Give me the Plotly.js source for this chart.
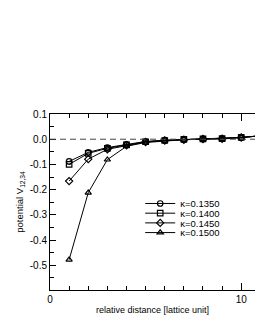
<!DOCTYPE html>
<html>
<head>
<meta charset="utf-8">
<script src="https://cdn.plot.ly/plotly-3.0.1.min.js"></script>
<style>html,body{margin:0;padding:0;background:#fff;overflow:hidden;}#chart{width:255px;height:330px;}</style>
</head>
<body>
<div id="chart"></div>
<script>
var distance = [1, 2, 3, 4, 5, 6, 7, 8, 9, 10, 11];
var seriesNames = ['κ=0.1350', 'κ=0.1400', 'κ=0.1450', 'κ=0.1500'];
var k1350 = [-0.088, -0.052, -0.033, -0.020, -0.009, -0.004, -0.001, 0.001, 0.002, 0.007, 0.013];
var k1400 = [-0.100, -0.056, -0.036, -0.022, -0.010, -0.005, -0.001, 0.001, 0.002, 0.007, 0.013];
var k1450 = [-0.166, -0.079, -0.040, -0.024, -0.011, -0.005, -0.002, 0.001, 0.002, 0.007, 0.014];
var k1500 = [-0.478, -0.212, -0.081, -0.028, -0.013, -0.006, -0.002, 0.000, 0.001, 0.006, 0.014];
var yTickVals = [0.1, 0.0, -0.1, -0.2, -0.3, -0.4, -0.5];
var yTickText = ['0.1', '0.0', '-0.1', '-0.2', '-0.3', '-0.4', '-0.5'];
var xTickVals = [0, 10];
var xTickText = ['0', '10'];

var seriesValues = [k1350, k1400, k1450, k1500];
var symbols = ['circle-open', 'square-open', 'diamond-open', 'triangle-up-open'];

var traces = seriesValues.map(function (vals, i) {
  return {
    x: distance, y: vals, name: seriesNames[i],
    type: 'scatter', mode: 'lines+markers',
    line: {color: '#000', width: 1},
    marker: {symbol: symbols[i], size: 5.5, color: '#000', line: {color: '#000', width: 1.2}}
  };
});

var font = 'Liberation Sans, Arial, sans-serif';
var layout = {
  width: 255, height: 330,
  margin: {l: 50, r: 0, t: 114, b: 40},
  paper_bgcolor: '#fff', plot_bgcolor: '#fff',
  font: {family: font, size: 10, color: '#000'},
  showlegend: true,
  legend: {x: 0.44, y: 0.52, xanchor: 'left', yanchor: 'top', bgcolor: 'rgba(0,0,0,0)',
           font: {family: font, size: 9.5, color: '#000'}, tracegroupgap: 0},
  xaxis: {
    range: [0, 10.72], showgrid: false, zeroline: false,
    showline: true, linecolor: '#000', linewidth: 1, mirror: 'ticks',
    ticks: 'inside', ticklen: 7, tickcolor: '#000',
    tickmode: 'array', tickvals: xTickVals, ticktext: xTickText,
    minor: {dtick: 1, tick0: 0, ticks: 'inside', ticklen: 4, tickcolor: '#000', showgrid: false},
    tickfont: {family: font, size: 10, color: '#000'},
    title: {text: 'relative distance [lattice unit]', font: {family: font, size: 9, color: '#000'}, standoff: 2}
  },
  yaxis: {
    range: [-0.598, 0.1], showgrid: false, zeroline: false,
    showline: true, linecolor: '#000', linewidth: 1,
    ticks: 'inside', ticklen: 6, tickcolor: '#000',
    tickmode: 'array', tickvals: yTickVals, ticktext: yTickText,
    minor: {dtick: 0.05, tick0: 0, ticks: 'inside', ticklen: 4, tickcolor: '#000', showgrid: false},
    tickfont: {family: font, size: 10, color: '#000'},
    title: {text: 'potential V<sub>12,34</sub>', font: {family: font, size: 9.5, color: '#000'}, standoff: 4}
  },
  shapes: [{type: 'line', xref: 'paper', x0: 0, x1: 1, yref: 'y', y0: 0, y1: 0,
            line: {color: '#444', width: 1, dash: '6px,4px'}}]
};

Plotly.newPlot('chart', traces, layout, {staticPlot: true, displayModeBar: false}).then(function () {
  var items = document.querySelectorAll('#chart .legend .traces');
  items.forEach(function (g, i) {
    g.setAttribute('transform', 'translate(0,' + (5 + i * 9.7) + ')');
  });
});
</script>
</body>
</html>
